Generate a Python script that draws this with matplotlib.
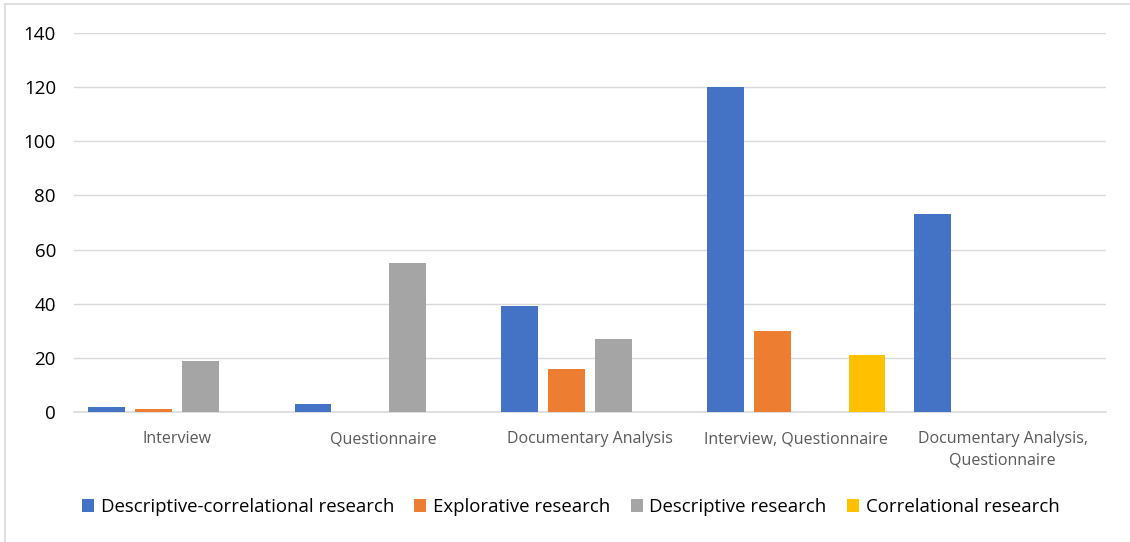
import numpy as np
import matplotlib.pyplot as plt
from matplotlib.lines import Line2D

# Data-collection method per category, counts per research design
CATEGORIES = ["Interview", "Questionnaire", "Documentary Analysis",
              "Interview, Questionnaire", "Documentary Analysis,\nQuestionnaire"]
SERIES = ["Descriptive-correlational research", "Explorative research",
          "Descriptive research", "Correlational research"]
DESC_CORR   = [2, 3, 39, 120, 73]
EXPLORATIVE = [1, 0, 16, 30, 0]
DESCRIPTIVE = [19, 55, 27, 0, 0]
CORRELATION = [0, 0, 0, 21, 0]
Y_TICKS = [0, 20, 40, 60, 80, 100, 120, 140]

COLORS = ["#4472C4", "#ED7D31", "#A5A5A5", "#FFC000"]
GRID = "#D9D9D9"
TEXT = "#595959"

plt.rcParams["font.family"] = ["Open Sans", "DejaVu Sans"]

fig = plt.figure(figsize=(11.3, 5.42), dpi=100)
ax = fig.add_axes([74 / 1130, 1 - 412 / 542, (1106 - 74) / 1130, (412 - 33) / 542])

x = np.arange(len(CATEGORIES))
width = 0.179
step = 0.228
values = [DESC_CORR, EXPLORATIVE, DESCRIPTIVE, CORRELATION]
for i, (name, vals, col) in enumerate(zip(SERIES, values, COLORS)):
    ax.bar(x + (i - 1.5) * step, vals, width, color=col, label=name, zorder=3)

ax.set_xlim(-0.5, len(CATEGORIES) - 0.5)
ax.set_ylim(0, 140)
ax.set_yticks(Y_TICKS)
ax.set_xticks(x)
ax.set_xticklabels(CATEGORIES, fontsize=11.5, color=TEXT, linespacing=1.4)
ax.tick_params(axis="y", labelsize=13.5, colors="black", length=0, pad=13)
ax.tick_params(axis="x", length=0, pad=14)
ax.grid(axis="y", color=GRID, linewidth=1.0, zorder=0)
for s in ("top", "right", "left"):
    ax.spines[s].set_visible(False)
ax.spines["bottom"].set_color(GRID)
ax.spines["bottom"].set_linewidth(1.2)

handles, labels = ax.get_legend_handles_labels()
fig.legend(handles, labels, loc="center", bbox_to_anchor=(0.505, 1 - 507 / 542),
           ncol=4, frameon=False, fontsize=13.4, handlelength=0.65, handleheight=0.65,
           handletextpad=0.35, columnspacing=1.1)

# chart frame on the left and top edges
fig.add_artist(Line2D([5 / 1130, 5 / 1130], [0, 1 - 4 / 542], transform=fig.transFigure,
                      color=GRID, linewidth=1.2))
fig.add_artist(Line2D([5 / 1130, 1], [1 - 4 / 542, 1 - 4 / 542], transform=fig.transFigure,
                      color=GRID, linewidth=1.2))

fig.savefig("out.png", dpi=100)
